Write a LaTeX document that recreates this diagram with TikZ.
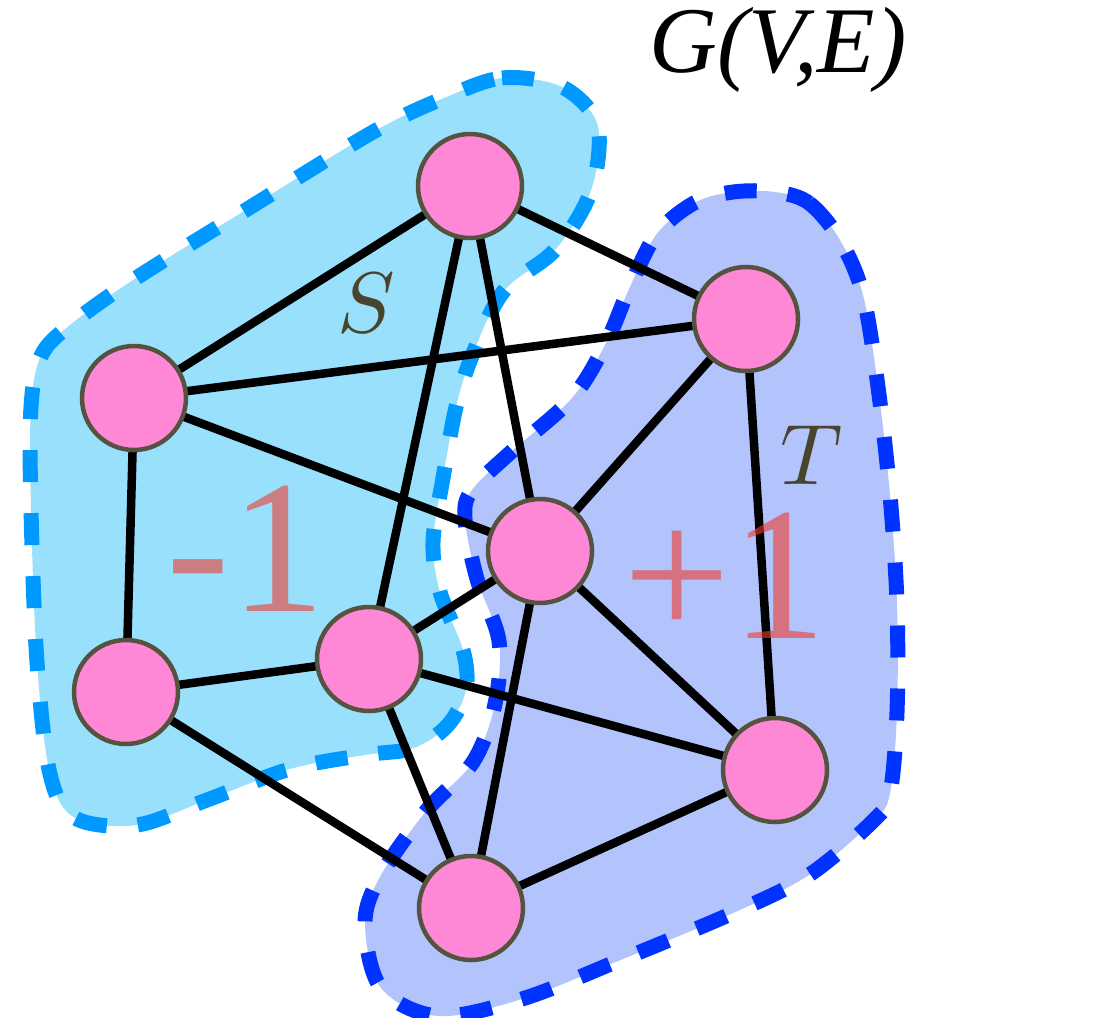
\documentclass[tikz,border=0pt]{standalone}
\usepackage{fontspec}
\newfontfamily\tnr{Liberation Serif}
\definecolor{sfill}{RGB}{153,224,253}
\definecolor{sdash}{RGB}{0,153,255}
\definecolor{tfill}{RGB}{179,195,252}
\definecolor{tdash}{RGB}{0,51,255}
\definecolor{nodefill}{RGB}{255,136,214}
\definecolor{nodeborder}{RGB}{85,82,64}
\definecolor{labelcol}{RGB}{72,68,45}
\definecolor{signcol}{RGB}{238,60,45}
\pgfdeclarelayer{blobs}
\pgfdeclarelayer{edges}
\pgfsetlayers{blobs,edges,main}
\begin{document}
\begin{tikzpicture}[x=1pt,y=-1pt,
  vertex/.style={circle, draw=nodeborder, fill=nodefill, line width=4.5pt, minimum size=104pt, inner sep=0pt},
  edgeline/.style={line width=8.5pt, black},
  blob/.style={line width=15pt, dash pattern=on 32pt off 31pt},
  setlabel/.style={text=labelcol, inner sep=0pt},
  signlabel/.style={text=signcol, text opacity=0.6, inner sep=0pt, font=\tnr\fontsize{190}{190}\selectfont},
]
\useasboundingbox (0,0) rectangle (1099,1017);

\begin{pgfonlayer}{blobs}
\draw[blob, fill=sfill, draw=sdash] plot[smooth cycle, tension=0.55] coordinates {
 (444,98) (502,78) (560,86) (595,118) (598,160) (585,205) (553,252) (503,292)
 (472,356) (456,407) (443,478) (433,542) (440,592) (463,650) (466,690) (448,725)
 (414,748) (365,755) (290,769) (207,800) (137,825) (75,818) (50,774) (37,662)
 (31,509) (31,407) (41,356) (70,325) (133,280) (249,208) (373,132)};
\draw[blob, fill=tfill, draw=tdash] plot[smooth cycle, tension=0.55] coordinates {
 (775,192) (809,203) (840,240) (863,295) (878,387) (890,495) (897,604) (897,712)
 (890,793) (874,820) (809,875) (733,913) (618,961) (522,999) (438,1016) (381,988)
 (365,923) (381,875) (427,810) (473,762) (495,704) (499,641) (477,579) (465,519)
 (472,490) (511,452) (572,398) (606,343) (629,289) (656,235) (694,203) (733,192)};
\end{pgfonlayer}

\node[vertex] (A) at (470,186) {};
\node[vertex] (B) at (134,398) {};
\node[vertex] (C) at (746,319) {};
\node[vertex] (D) at (540,551) {};
\node[vertex] (E) at (126,692) {};
\node[vertex] (F) at (369,659) {};
\node[vertex] (G) at (775,770) {};
\node[vertex] (H) at (471,908) {};

\begin{pgfonlayer}{edges}
\foreach \u/\v in {A/B, A/C, A/D, A/F, B/C, B/D, B/E, C/D, C/G, D/F, D/G, D/H, E/F, E/H, F/G, F/H, G/H}
  \draw[edgeline] (\u.center) -- (\v.center);
\end{pgfonlayer}

\node[setlabel, anchor=base] (Slab) at (366,332) {\scalebox{8.6}{$S$}};
\node[setlabel, anchor=base] (Tlab) at (812,484) {\scalebox{8.6}{$T$}};
\node[signlabel, anchor=base] (minus) at (246,611) {-1};
\node[signlabel, anchor=base] (plus) at (725,638) {+1};
\node[anchor=base, inner sep=0pt, font=\tnr\itshape\fontsize{94}{94}\selectfont] (title) at (778,72) {G(V,E)};
\end{tikzpicture}
\end{document}
